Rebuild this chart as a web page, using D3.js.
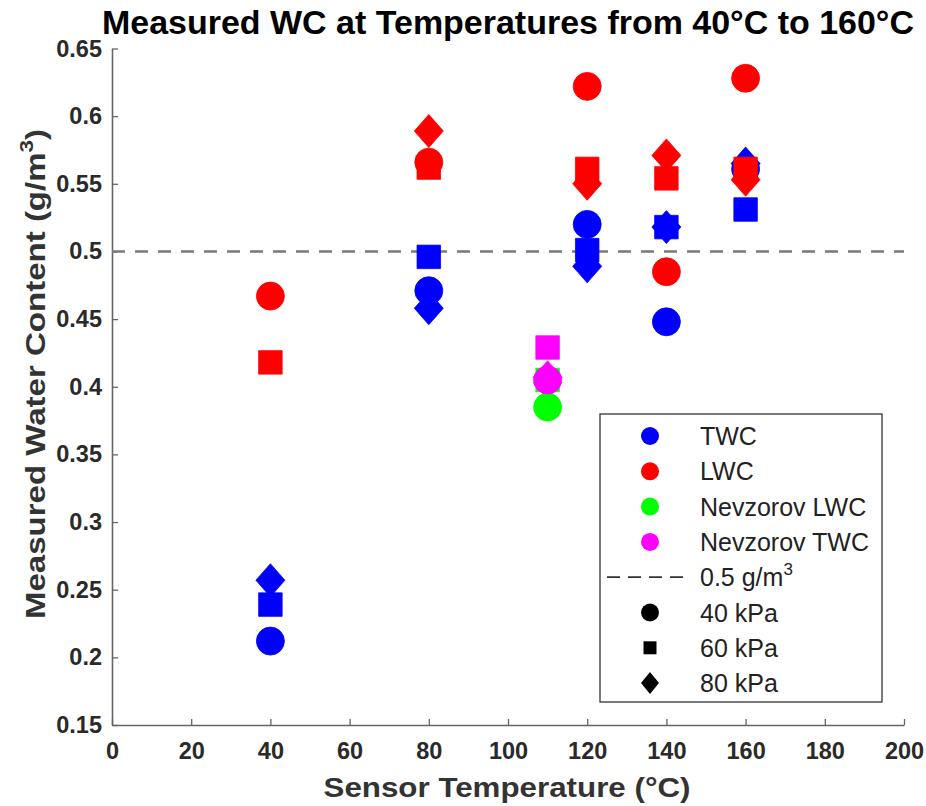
<!DOCTYPE html>
<html>
<head>
<meta charset="utf-8">
<script src="https://cdn.jsdelivr.net/npm/d3@7"></script>
<style>
  body { margin: 0; background: #fff; }
  text { font-family: "Liberation Sans", Arial, Helvetica, sans-serif; }
</style>
</head>
<body>
<div id="chart"></div>
<script>
// Chart data
var temps = [40, 80, 120, 140, 160];
var nevTemps = [110];

var twc40 = [0.212, 0.471, 0.520, 0.448, 0.561];
var twc60 = [0.239, 0.496, 0.501, 0.518, 0.531];
var twc80 = [0.257, 0.458, 0.489, 0.518, 0.565];

var lwc40 = [0.467, 0.566, 0.622, 0.485, 0.628];
var lwc60 = [0.418, 0.562, 0.561, 0.554, 0.561];
var lwc80 = [null, 0.589, 0.550, 0.571, 0.553];

var nevLwc40 = [0.385];
var nevLwc60 = [0.405];
var nevLwc80 = [0.403];

var nevTwc40 = [0.405];
var nevTwc60 = [0.429];
var nevTwc80 = [0.407];

var xTicks = [0, 20, 40, 60, 80, 100, 120, 140, 160, 180, 200];
var yTicks = [0.15, 0.2, 0.25, 0.3, 0.35, 0.4, 0.45, 0.5, 0.55, 0.6, 0.65];
var refLevel = 0.5;

var seriesNames = ["TWC", "LWC", "Nevzorov LWC", "Nevzorov TWC"];
var seriesColors = ["#0000ff", "#ff0000", "#00ff00", "#ff00ff"];
var pressureNames = ["40 kPa", "60 kPa", "80 kPa"];

// SVG size
var svgWidth = 926;
var svgHeight = 806;

var svg = d3.select("#chart")
  .append("svg")
  .attr("width", svgWidth)
  .attr("height", svgHeight);

// scales
var x = d3.scaleLinear().domain([0, 200]).range([112, 904]);
var y = d3.scaleLinear().domain([0.15, 0.65]).range([725, 48.5]);

// marker shapes
var diamond = function(hw, hh) {
  return {
    draw: function(ctx) {
      ctx.moveTo(0, -hh);
      ctx.lineTo(hw, 0);
      ctx.lineTo(0, hh);
      ctx.lineTo(-hw, 0);
      ctx.closePath();
    }
  };
};
var shapeBig = {
  c: d3.symbol(d3.symbolCircle, Math.PI * 14 * 14)(),
  s: d3.symbol(d3.symbolSquare, 23.5 * 23.5)(),
  d: d3.symbol(diamond(14.5, 16.5))()
};
var shapeSmall = {
  c: d3.symbol(d3.symbolCircle, Math.PI * 9 * 9)(),
  s: d3.symbol(d3.symbolSquare, 13 * 13)(),
  d: d3.symbol(diamond(9, 11))()
};

// axes (ticks pointing inward, MATLAB style)
var xAxis = svg.append("g")
  .attr("transform", "translate(0," + y(0.15) + ")")
  .call(d3.axisBottom(x).tickValues(xTicks).tickSizeInner(-6).tickSizeOuter(0).tickPadding(17));
var yAxis = svg.append("g")
  .attr("transform", "translate(" + x(0) + ",0)")
  .call(d3.axisLeft(y).tickValues(yTicks).tickFormat(d3.format(".2~f")).tickSizeInner(-6).tickSizeOuter(0).tickPadding(10));

[xAxis, yAxis].forEach(function(g) {
  g.select(".domain").attr("stroke", "#666").attr("stroke-width", 1.6);
  g.selectAll(".tick line").attr("stroke", "#666").attr("stroke-width", 1.3);
  g.selectAll(".tick text")
    .attr("fill", "#2a2a2a")
    .style("font-size", "23.5px")
    .style("font-weight", "bold")
    .style("font-family", "'Liberation Sans', Arial, sans-serif");
});

// 0.5 g/m3 reference line
svg.append("line")
  .attr("x1", x(0)).attr("x2", x(200))
  .attr("y1", y(refLevel)).attr("y2", y(refLevel))
  .attr("stroke", "#7a7a7a")
  .attr("stroke-width", 2.5)
  .attr("stroke-dasharray", "13,10");

// points: TWC/LWC draw 80, 60, then 40 kPa; Nevzorov draw 40, 60, then 80 kPa
var groups = [
  { xs: temps, color: seriesColors[0], d: twc80, s: twc60, c: twc40, order: ["d", "s", "c"] },
  { xs: temps, color: seriesColors[1], d: lwc80, s: lwc60, c: lwc40, order: ["d", "s", "c"] },
  { xs: nevTemps, color: seriesColors[2], d: nevLwc80, s: nevLwc60, c: nevLwc40, order: ["c", "s", "d"] },
  { xs: nevTemps, color: seriesColors[3], d: nevTwc80, s: nevTwc60, c: nevTwc40, order: ["c", "s", "d"] }
];

var points = [];
groups.forEach(function(gr) {
  gr.order.forEach(function(k) {
    gr[k].forEach(function(v, i) {
      if (v != null) points.push({ t: gr.xs[i], v: v, shape: k, color: gr.color });
    });
  });
});

svg.append("g")
  .selectAll("path")
  .data(points)
  .enter()
  .append("path")
  .attr("transform", d => "translate(" + x(d.t) + "," + y(d.v) + ")")
  .attr("d", d => shapeBig[d.shape])
  .attr("fill", d => d.color)
  .attr("stroke", d => d.color)
  .attr("stroke-width", 0.8);

// legend
var legend = svg.append("g");
legend.append("rect")
  .attr("x", 600).attr("y", 414)
  .attr("width", 282).attr("height", 288)
  .attr("fill", "#fff")
  .attr("stroke", "#333")
  .attr("stroke-width", 1.3);

var rowY = function(i) { return 436 + i * 35.3; };
var mx = 650, tx = 700;

seriesNames.forEach(function(name, i) {
  legend.append("path")
    .attr("transform", "translate(" + mx + "," + rowY(i) + ")")
    .attr("d", shapeSmall.c)
    .attr("fill", seriesColors[i]);
  legend.append("text")
    .attr("x", tx).attr("y", rowY(i)).attr("dy", "0.36em")
    .style("font-size", "25px").attr("fill", "#222")
    .text(name);
});

legend.append("line")
  .attr("x1", 607).attr("x2", 688)
  .attr("y1", rowY(4)).attr("y2", rowY(4))
  .attr("stroke", "#333").attr("stroke-width", 1.8)
  .attr("stroke-dasharray", "13,8");
var refText = legend.append("text")
  .attr("x", tx).attr("y", rowY(4)).attr("dy", "0.36em")
  .style("font-size", "25px").attr("fill", "#222");
refText.append("tspan").text("0.5 g/m");
refText.append("tspan").attr("dy", -11).style("font-size", "17px").text("3");

["c", "s", "d"].forEach(function(k, i) {
  legend.append("path")
    .attr("transform", "translate(" + mx + "," + rowY(5 + i) + ")")
    .attr("d", shapeSmall[k])
    .attr("fill", "#000");
  legend.append("text")
    .attr("x", tx).attr("y", rowY(5 + i)).attr("dy", "0.36em")
    .style("font-size", "25px").attr("fill", "#222")
    .text(pressureNames[i]);
});

// title and axis labels
svg.append("text")
  .attr("x", 508).attr("y", 34)
  .attr("text-anchor", "middle")
  .style("font-size", "33px").style("font-weight", "bold")
  .attr("textLength", 812).attr("lengthAdjust", "spacingAndGlyphs")
  .text("Measured WC at Temperatures from 40°C to 160°C");

svg.append("text")
  .attr("x", 507).attr("y", 797)
  .attr("text-anchor", "middle")
  .style("font-size", "28px").style("font-weight", "bold")
  .attr("fill", "#333")
  .attr("textLength", 367).attr("lengthAdjust", "spacingAndGlyphs")
  .text("Sensor Temperature (°C)");

var yLabel = svg.append("text")
  .attr("transform", "translate(45,374) rotate(-90) scale(1.18,1)")
  .attr("text-anchor", "middle")
  .style("font-size", "28px").style("font-weight", "bold")
  .attr("fill", "#333");
yLabel.append("tspan").text("Measured Water Content (g/m");
yLabel.append("tspan").attr("dy", -12).style("font-size", "19px").text("3");
yLabel.append("tspan").attr("dy", 12).text(")");
</script>
</body>
</html>
